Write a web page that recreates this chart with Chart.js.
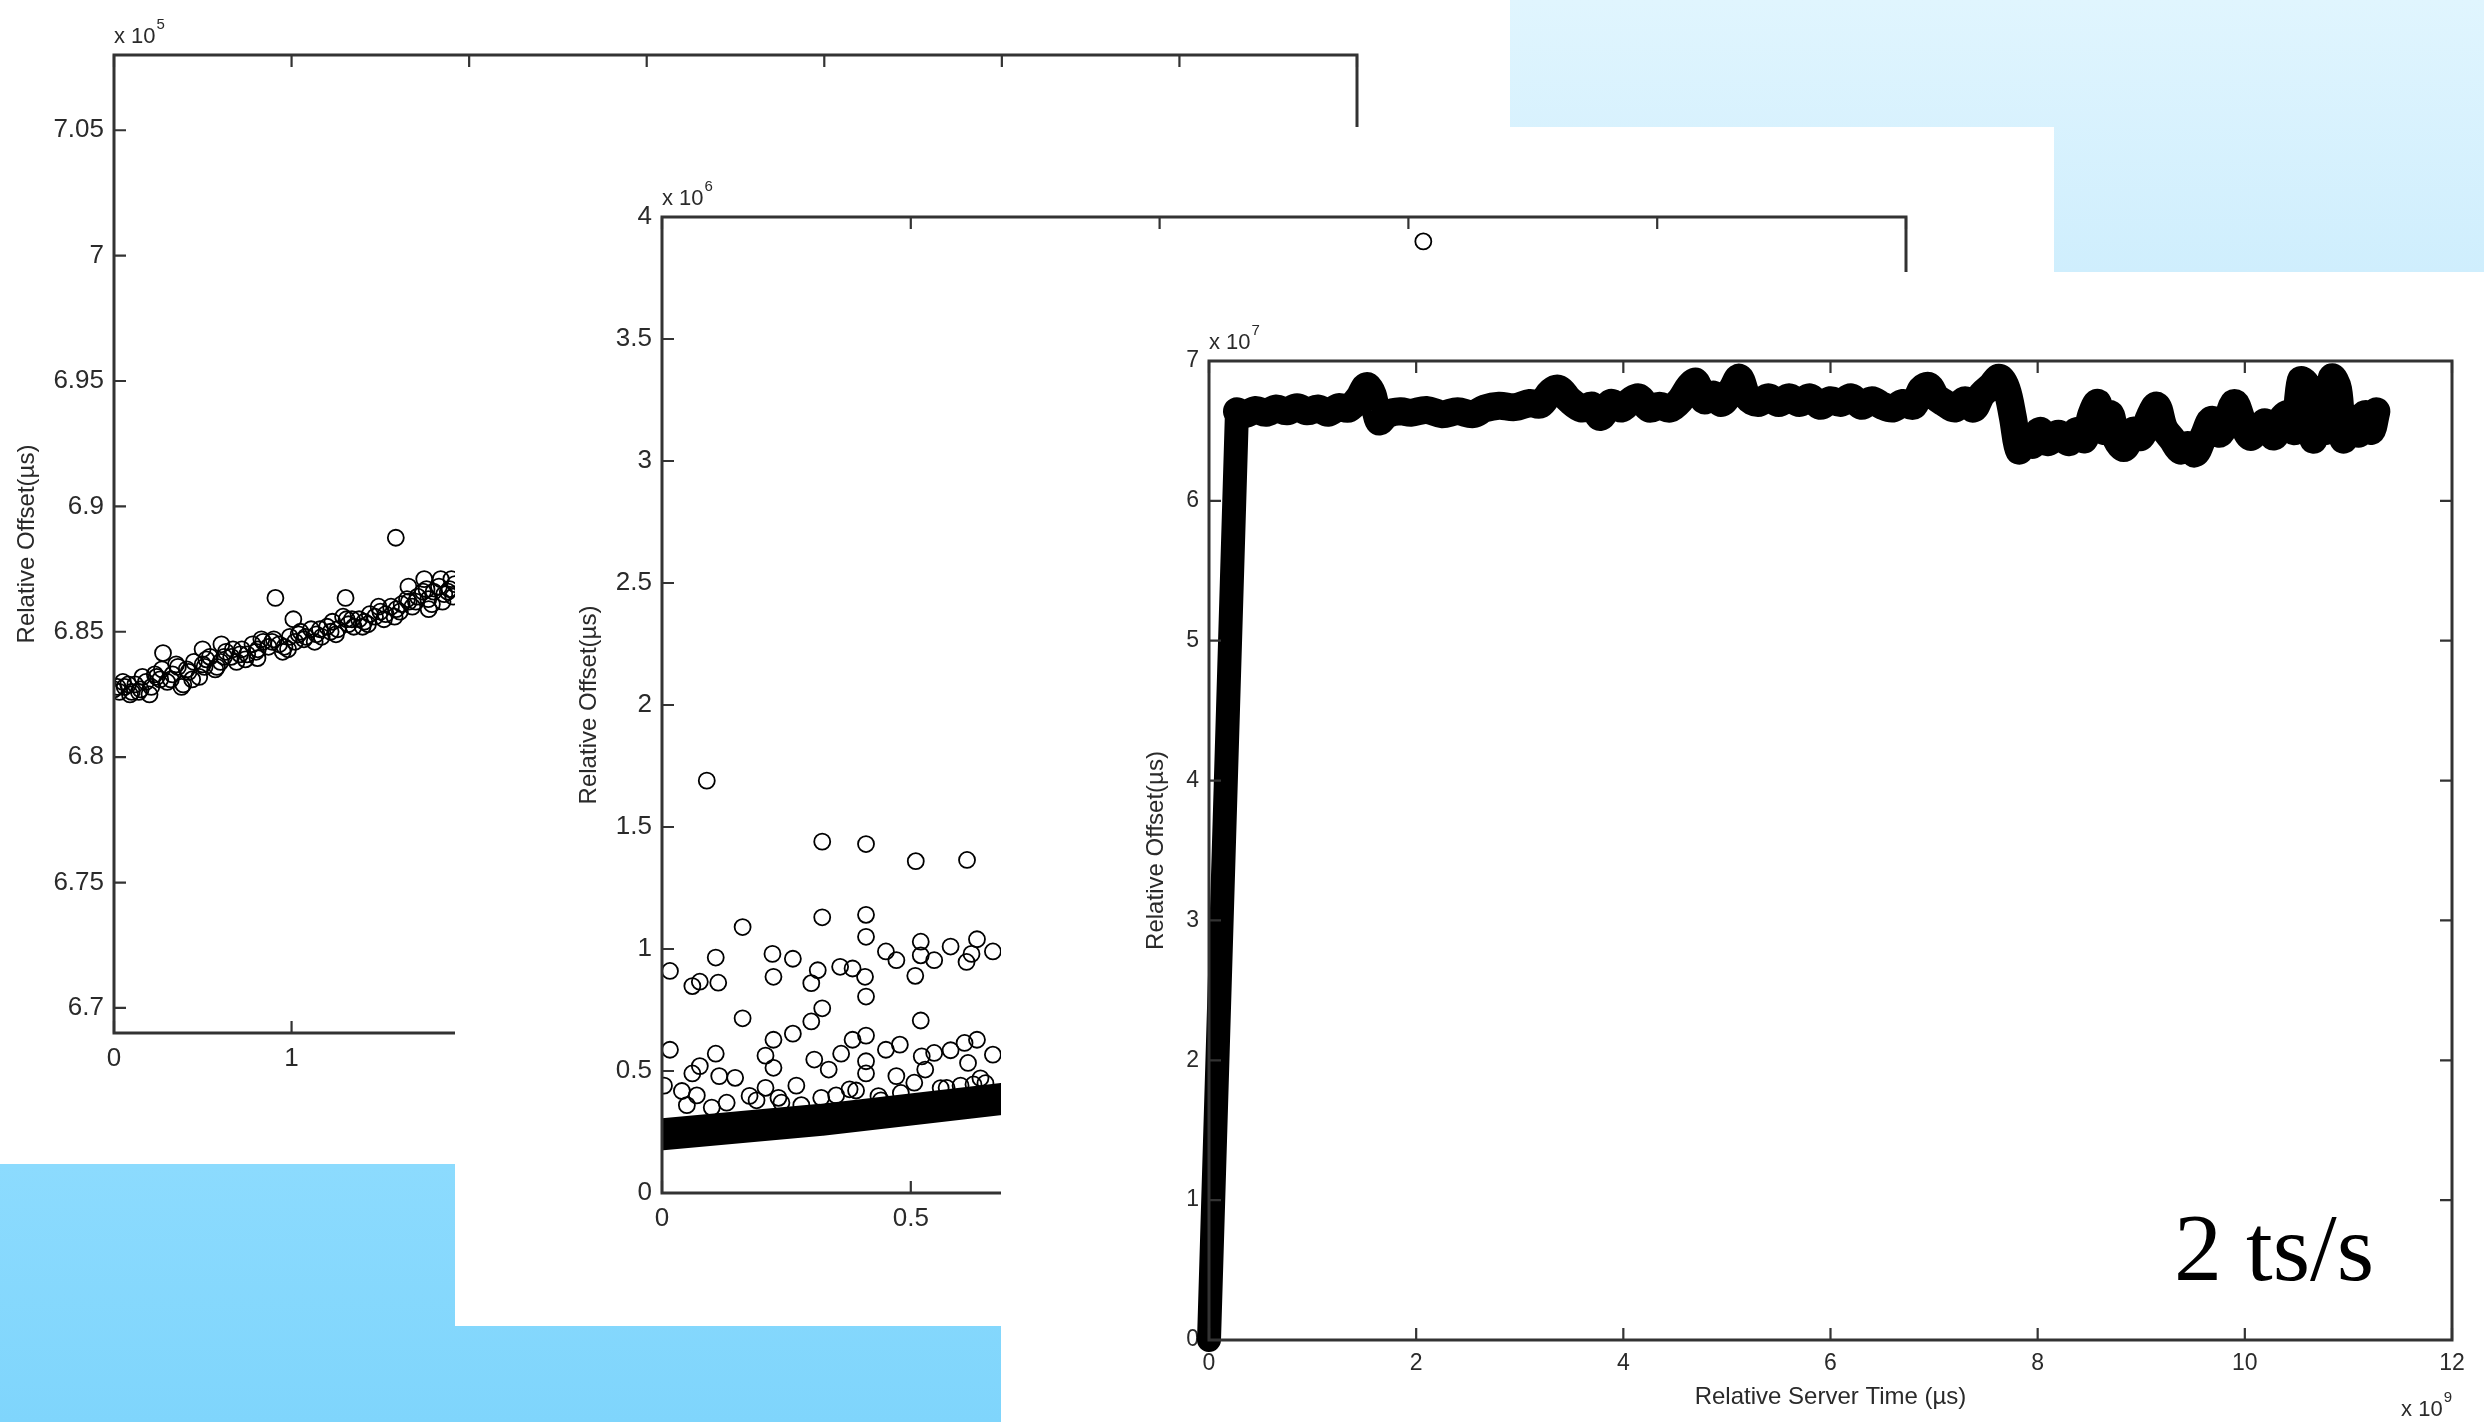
<!DOCTYPE html>
<html>
<head>
<meta charset="utf-8">
<script src="https://cdn.jsdelivr.net/npm/chart.js@4.4.1/dist/chart.umd.min.js"></script>
<style>
  html, body { margin: 0; padding: 0; }
  body {
    width: 2484px; height: 1422px; overflow: hidden; position: relative;
    background: linear-gradient(to bottom, #e0f5fe 0px, #cfeefd 272px, #8cdbfe 1164px, #7fd5fc 1422px);
  }
  canvas { position: absolute; background: #fff; }
  #c1 { left: 0; top: 0; }
  #c2 { left: 455px; top: 127px; }
  #c3 { left: 1001px; top: 272px; }
  #rate {
    position: absolute; left: 2174px; top: 1200px;
    font-family: "Liberation Serif", "Times New Roman", serif;
    font-size: 96px; line-height: 1; color: #000;
  }
</style>
</head>
<body>
<canvas id="c1" width="1510" height="1164"></canvas>
<canvas id="c2" width="1599" height="1199"></canvas>
<canvas id="c3" width="1483" height="1150"></canvas>
<div id="rate">2 ts/s</div>
<script>
// ---------- chart 1 data (offset x 10^5 us) ----------
var c1Time = [0.00, 0.03, 0.06, 0.09, 0.12, 0.15, 0.18, 0.21, 0.24, 0.27, 0.30, 0.33, 0.36, 0.39,
  0.42, 0.45, 0.48, 0.51, 0.54, 0.57, 0.60, 0.63, 0.66, 0.69, 0.72, 0.75, 0.78, 0.81, 0.84, 0.87,
  0.90, 0.93, 0.96, 0.99, 1.02, 1.05, 1.08, 1.11, 1.14, 1.17, 1.20, 1.23, 1.26, 1.29, 1.32, 1.35,
  1.38, 1.41, 1.44, 1.47, 1.50, 1.53, 1.56, 1.59, 1.62, 1.65, 1.68, 1.71, 1.74, 1.77, 1.80, 1.83,
  1.86, 1.89, 1.92,
  0.05, 0.10, 0.16, 0.20, 0.26, 0.35, 0.38, 0.44, 0.52, 0.58, 0.67, 0.74, 0.83, 0.95, 1.04, 1.13,
  1.22, 1.31, 1.40, 1.49, 1.58, 1.66, 1.76, 1.85, 1.91,
  0.02, 0.08, 0.14, 0.23, 0.32, 0.41, 0.50, 0.62, 0.71, 0.80, 0.89, 0.98, 1.07, 1.16, 1.25, 1.34,
  1.43, 1.52, 1.61, 1.70, 1.79, 1.88,
  1.587, 0.909, 1.304, 1.010, 0.276, 0.499, 0.605, 0.808, 1.772, 1.658, 1.747, 1.840, 1.900];
var c1Offset = [6.827, 6.826, 6.828, 6.825, 6.829, 6.827, 6.830, 6.828, 6.832, 6.835, 6.830, 6.833,
  6.836, 6.829, 6.834, 6.838, 6.832, 6.836, 6.840, 6.835, 6.838, 6.842, 6.840, 6.838, 6.843, 6.841,
  6.845, 6.843, 6.846, 6.844, 6.847, 6.845, 6.844, 6.848, 6.846, 6.850, 6.848, 6.851, 6.849, 6.848,
  6.852, 6.854, 6.851, 6.856, 6.853, 6.852, 6.855, 6.854, 6.857, 6.856, 6.858, 6.857, 6.860, 6.859,
  6.861, 6.863, 6.860, 6.864, 6.866, 6.863, 6.866, 6.868, 6.865, 6.867, 6.869,
  6.830, 6.826, 6.832, 6.825, 6.831, 6.837, 6.828, 6.831, 6.839, 6.836, 6.843, 6.839, 6.847, 6.842,
  6.849, 6.846, 6.850, 6.855, 6.852, 6.860, 6.856, 6.862, 6.867, 6.862, 6.864,
  6.828, 6.829, 6.826, 6.833, 6.831, 6.835, 6.837, 6.840, 6.841, 6.842, 6.846, 6.843, 6.847, 6.851,
  6.849, 6.855, 6.853, 6.855, 6.858, 6.862, 6.861, 6.866,
  6.8875, 6.8635, 6.8635, 6.855, 6.8415, 6.843, 6.845, 6.8395, 6.859, 6.868, 6.871, 6.871, 6.871];
var c1XTicks = [0, 1, 2, 3, 4, 5, 6, 7];
var c1YTicks = [6.7, 6.75, 6.8, 6.85, 6.9, 6.95, 7, 7.05];

// ---------- chart 2 data (offset x 10^6 us) ----------
var c2Time = [0.016, 0.090, 0.322, 0.410, 0.510, 0.613, 0.322, 0.410, 0.162, 0.410, 0.520, 0.633,
  0.580, 0.665, 0.222, 0.263, 0.108, 0.450, 0.471, 0.520, 0.547, 0.612, 0.622, 0.061, 0.076, 0.113,
  0.224, 0.300, 0.313, 0.358, 0.383, 0.408, 0.410, 0.509, 0.162, 0.322, 0.300, 0.520, 0.016, 0.108,
  0.224, 0.263, 0.383, 0.410, 0.208, 0.224, 0.306, 0.335, 0.360, 0.450, 0.478, 0.522, 0.547, 0.580,
  0.608, 0.633, 0.665, 0.004, 0.061, 0.076, 0.115, 0.147, 0.176, 0.208, 0.234, 0.270, 0.320, 0.410,
  0.471, 0.507, 0.572, 0.626, 0.529, 0.377, 0.435, 0.040, 0.410, 0.615, 0.050, 0.130, 0.190, 0.280,
  0.350, 0.480, 0.560, 0.650, 0.070, 0.100, 0.240, 0.390, 0.440, 0.600, 0.640, 1.530];
var c2Offset = [0.91, 1.69, 1.44, 1.43, 1.36, 1.365, 1.13, 1.14, 1.09, 1.05, 1.03, 1.04,
  1.01, 0.99, 0.98, 0.96, 0.965, 0.99, 0.954, 0.974, 0.954, 0.947, 0.98, 0.848, 0.866, 0.862,
  0.886, 0.86, 0.913, 0.927, 0.92, 0.886, 0.805, 0.89, 0.716, 0.757, 0.703, 0.707, 0.587, 0.571,
  0.628, 0.653, 0.628, 0.645, 0.563, 0.513, 0.547, 0.506, 0.571, 0.587, 0.608, 0.56, 0.574, 0.585,
  0.615, 0.628, 0.567, 0.44, 0.49, 0.52, 0.479, 0.472, 0.398, 0.431, 0.39, 0.44, 0.39, 0.49,
  0.479, 0.452, 0.431, 0.445, 0.506, 0.425, 0.397, 0.418, 0.54, 0.533, 0.36, 0.37, 0.38, 0.36,
  0.40, 0.41, 0.43, 0.45, 0.40, 0.35, 0.37, 0.42, 0.38, 0.44, 0.47, 3.90];
var c2BandTime = [0, 0.32, 0.68];
var c2BandOffset = [0.24, 0.30, 0.385];
var c2XTicks = [0, 0.5, 1, 1.5, 2, 2.5];
var c2YTicks = [0, 0.5, 1, 1.5, 2, 2.5, 3, 3.5, 4];

// ---------- chart 3 data (time x 10^9 us, offset x 10^7 us) ----------
var c3RiseTime = [0.0, 0.27];
var c3RiseOffset = [0.0, 6.64];
var c3Time = [0.27, 0.35, 0.45, 0.55, 0.65, 0.75, 0.85, 0.95, 1.05, 1.15, 1.25, 1.35, 1.45, 1.52,
  1.58, 1.64, 1.72, 1.85, 1.95, 2.1, 2.25, 2.4, 2.55, 2.66, 2.8, 2.95, 3.1, 3.2, 3.3, 3.38, 3.48,
  3.6, 3.7, 3.78, 3.88, 3.98, 4.08, 4.15, 4.25, 4.35, 4.45, 4.55, 4.64, 4.7, 4.78, 4.87, 4.95, 5.05,
  5.12, 5.2, 5.3, 5.4, 5.5, 5.6, 5.7, 5.8, 5.9, 6.0, 6.1, 6.2, 6.3, 6.4, 6.5, 6.6, 6.7, 6.8, 6.88,
  6.95, 7.02, 7.1, 7.2, 7.3, 7.38, 7.46, 7.55, 7.63, 7.7, 7.76, 7.82, 7.88, 7.95, 8.02, 8.1, 8.2,
  8.3, 8.38, 8.45, 8.52, 8.58, 8.64, 8.7, 8.76, 8.84, 8.92, 9.0, 9.08, 9.15, 9.22, 9.3, 9.38, 9.45,
  9.52, 9.6, 9.68, 9.75, 9.82, 9.9, 9.98, 10.05, 10.12, 10.2, 10.28, 10.35, 10.42, 10.48, 10.54,
  10.6, 10.66, 10.72, 10.78, 10.84, 10.9, 10.95, 11.02, 11.1, 11.16, 11.22, 11.27];
var c3Offset = [6.64, 6.62, 6.65, 6.63, 6.66, 6.64, 6.67, 6.64, 6.66, 6.63, 6.67, 6.66, 6.74, 6.82,
  6.76, 6.57, 6.62, 6.64, 6.63, 6.65, 6.62, 6.64, 6.62, 6.66, 6.68, 6.67, 6.7, 6.69, 6.78, 6.8, 6.72,
  6.66, 6.68, 6.6, 6.7, 6.66, 6.72, 6.74, 6.66, 6.68, 6.66, 6.72, 6.82, 6.85, 6.72, 6.76, 6.7, 6.8,
  6.88, 6.74, 6.7, 6.74, 6.7, 6.74, 6.7, 6.74, 6.68, 6.72, 6.7, 6.74, 6.68, 6.72, 6.68, 6.66, 6.7,
  6.68, 6.8, 6.82, 6.74, 6.7, 6.66, 6.72, 6.66, 6.76, 6.82, 6.88, 6.8, 6.6, 6.36, 6.46, 6.4, 6.5,
  6.42, 6.48, 6.42, 6.5, 6.44, 6.62, 6.7, 6.5, 6.62, 6.44, 6.38, 6.5, 6.46, 6.6, 6.68, 6.52, 6.44,
  6.36, 6.4, 6.34, 6.46, 6.58, 6.48, 6.56, 6.7, 6.56, 6.46, 6.5, 6.56, 6.46, 6.58, 6.62, 6.5, 6.86,
  6.82, 6.44, 6.6, 6.5, 6.88, 6.8, 6.44, 6.58, 6.48, 6.62, 6.5, 6.64];
var c3XTicks = [0, 2, 4, 6, 8, 10, 12];
var c3YTicks = [0, 1, 2, 3, 4, 5, 6, 7];

Chart.defaults.font.family = '"Liberation Sans", Arial, sans-serif';
Chart.defaults.color = '#2a2a2a';

function pts(xs, ys) {
  return xs.map(function (x, i) { return { x: x, y: ys[i] }; });
}
function fmt(v) { return String(+Number(v).toFixed(2)); }

// MATLAB style box with inward ticks and the x 10^n exponent labels
var matlabBox = {
  id: 'matlabBox',
  afterDatasetsDraw: function (chart, args, opts) {
    var ctx = chart.ctx, a = chart.chartArea, x = chart.scales.x, y = chart.scales.y;
    var len = 12;
    ctx.save();
    ctx.strokeStyle = '#333';
    ctx.lineWidth = 2.2;
    ctx.beginPath();
    x.ticks.forEach(function (t) {
      var px = x.getPixelForValue(t.value);
      ctx.moveTo(px, a.bottom); ctx.lineTo(px, a.bottom - len);
      ctx.moveTo(px, a.top); ctx.lineTo(px, a.top + len);
    });
    y.ticks.forEach(function (t) {
      var py = y.getPixelForValue(t.value);
      ctx.moveTo(a.left, py); ctx.lineTo(a.left + len, py);
      ctx.moveTo(a.right, py); ctx.lineTo(a.right - len, py);
    });
    ctx.stroke();
    ctx.lineWidth = 3;
    ctx.strokeRect(a.left, a.top, a.right - a.left, a.bottom - a.top);

    ctx.fillStyle = '#2a2a2a';
    ctx.textBaseline = 'alphabetic';
    if (opts.yExp) {
      ctx.font = '22px "Liberation Sans", Arial, sans-serif';
      ctx.textAlign = 'left';
      ctx.fillText('x 10', a.left, a.top - 12);
      var w = ctx.measureText('x 10').width;
      ctx.font = '15px "Liberation Sans", Arial, sans-serif';
      ctx.fillText(opts.yExp, a.left + w + 1, a.top - 26);
    }
    if (opts.xExp) {
      ctx.font = '15px "Liberation Sans", Arial, sans-serif';
      ctx.textAlign = 'right';
      ctx.fillText(opts.xExp, a.right, chart.height - 20);
      var w2 = ctx.measureText(opts.xExp).width;
      ctx.font = '22px "Liberation Sans", Arial, sans-serif';
      ctx.fillText('x 10', a.right - w2 - 1, chart.height - 6);
    }
    ctx.restore();
  }
};

function axes(o) {
  return {
    x: {
      type: 'linear', min: o.xMin, max: o.xMax,
      grid: { display: false, drawTicks: false },
      border: { display: false },
      afterBuildTicks: function (s) { s.ticks = o.xTicks.map(function (v) { return { value: v }; }); },
      afterFit: function (s) { s.height = o.xH; },
      ticks: { padding: 10, font: { size: o.tickSize }, maxRotation: 0, callback: fmt },
      title: o.xTitle ? { display: true, text: o.xTitle, font: { size: 24 }, padding: { top: 0, bottom: 10 } } : { display: false }
    },
    y: {
      type: 'linear', min: o.yMin, max: o.yMax,
      grid: { display: false, drawTicks: false },
      border: { display: false },
      afterBuildTicks: function (s) { s.ticks = o.yTicks.map(function (v) { return { value: v }; }); },
      afterFit: function (s) { s.width = o.yW; },
      ticks: { padding: 10, font: { size: o.tickSize }, callback: fmt },
      title: { display: true, text: 'Relative Offset(\u00b5s)', font: { size: 24 } }
    }
  };
}

var circle = {
  pointStyle: 'circle', pointRadius: 8, pointBorderWidth: 1.8,
  borderColor: '#000', backgroundColor: 'rgba(0,0,0,0)', showLine: false
};

// **************chart 1*****************
new Chart(document.getElementById('c1'), {
  type: 'scatter',
  data: { datasets: [Object.assign({ data: pts(c1Time, c1Offset) }, circle)] },
  options: {
    responsive: false, animation: false, devicePixelRatio: 1,
    layout: { padding: { left: 9, top: 55, right: 153, bottom: 71 } },
    plugins: { legend: { display: false }, tooltip: { enabled: false }, matlabBox: { yExp: '5' } },
    scales: axes({ xMin: 0, xMax: 7, yMin: 6.69, yMax: 7.08, xTicks: c1XTicks, yTicks: c1YTicks,
      xH: 60, yW: 105, tickSize: 26 })
  },
  plugins: [matlabBox]
});

// **************chart 2*****************
new Chart(document.getElementById('c2'), {
  type: 'scatter',
  data: { datasets: [
    Object.assign({ data: pts(c2Time, c2Offset) }, circle),
    { data: pts(c2BandTime, c2BandOffset), showLine: true, pointRadius: 0, borderColor: '#000',
      borderWidth: 32, borderCapStyle: 'round', borderJoinStyle: 'round' }
  ] },
  options: {
    responsive: false, animation: false, devicePixelRatio: 1,
    layout: { padding: { left: 116, top: 90, right: 148, bottom: 73 } },
    plugins: { legend: { display: false }, tooltip: { enabled: false }, matlabBox: { yExp: '6' } },
    scales: axes({ xMin: 0, xMax: 2.5, yMin: 0, yMax: 4, xTicks: c2XTicks, yTicks: c2YTicks,
      xH: 60, yW: 91, tickSize: 26 })
  },
  plugins: [matlabBox]
});

// **************chart 3*****************
new Chart(document.getElementById('c3'), {
  type: 'scatter',
  data: { datasets: [
    { data: pts(c3RiseTime, c3RiseOffset), showLine: true, pointRadius: 0, borderColor: '#000',
      borderWidth: 24, borderCapStyle: 'round', borderJoinStyle: 'round', clip: false },
    { data: pts(c3Time, c3Offset), showLine: true, pointRadius: 0, borderColor: '#000', tension: 0.35,
      borderWidth: 28, borderCapStyle: 'round', borderJoinStyle: 'round' }
  ] },
  options: {
    responsive: false, animation: false, devicePixelRatio: 1,
    layout: { padding: { left: 137, top: 89, right: 32, bottom: 0 } },
    plugins: { legend: { display: false }, tooltip: { enabled: false }, matlabBox: { yExp: '7', xExp: '9' } },
    scales: axes({ xMin: 0, xMax: 12, yMin: 0, yMax: 7, xTicks: c3XTicks, yTicks: c3YTicks,
      xH: 82, yW: 71, tickSize: 23, xTitle: 'Relative Server Time (\u00b5s)' })
  },
  plugins: [matlabBox]
});
</script>
</body>
</html>
